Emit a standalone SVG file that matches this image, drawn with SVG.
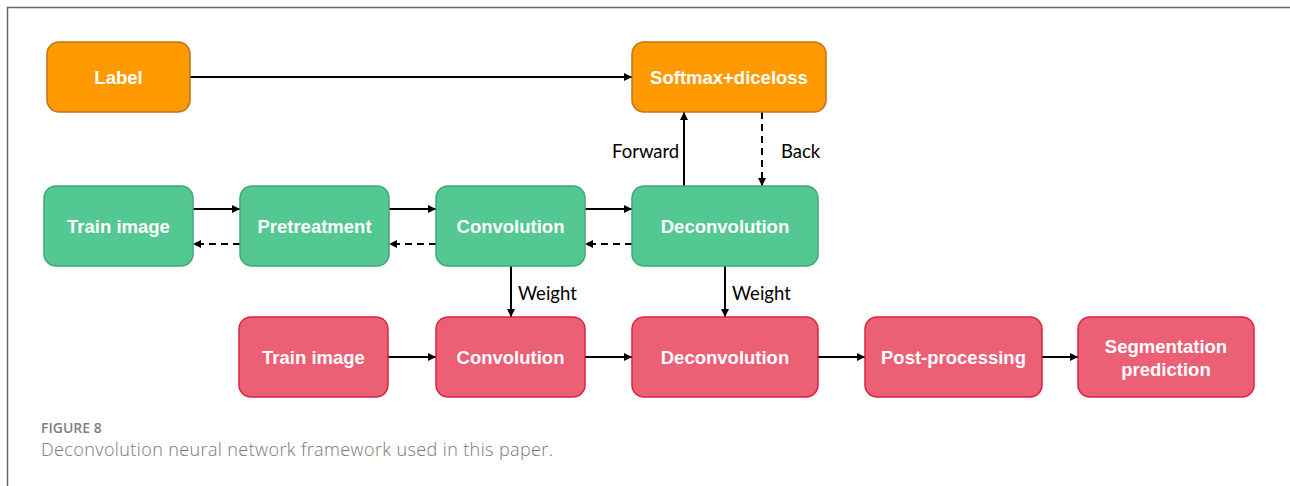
<svg xmlns="http://www.w3.org/2000/svg" width="1290" height="486" viewBox="0 0 1290 486">
<defs>
<marker id="ah" viewBox="0 0 10 10" refX="10" refY="5" markerWidth="9" markerHeight="8" markerUnits="userSpaceOnUse" orient="auto">
<path d="M0,0 L10,5 L0,10 z" fill="#000"/>
</marker>
</defs>
<style>
.orange{fill:#FF9900;stroke:#BF7413;stroke-width:1.5}
.green{fill:#54C893;stroke:#3FA872;stroke-width:1.5}
.red{fill:#EC6075;stroke:#DF2140;stroke-width:1.5}
.nt{font-family:"Liberation Sans",Arial,sans-serif;font-weight:bold;font-size:18.5px;fill:#fff;text-anchor:middle;dominant-baseline:central}
.lbl{font-family:Lato,"Open Sans",sans-serif;font-size:18.5px;fill:#000}
.c{stroke:#000;stroke-width:2;fill:none;marker-end:url(#ah)}
.d{stroke-dasharray:7,5}
.frame{stroke:#666;stroke-width:1.5;fill:none}
</style>
<rect width="1290" height="486" fill="#fff"/>
<path class="frame" d="M7.5,486 V7.5 H1290"/>

<g id="connectors">
<line class="c" x1="190" y1="77" x2="632" y2="77"/>
<line class="c" x1="684" y1="186" x2="684" y2="112"/>
<line class="c d" x1="762" y1="112" x2="762" y2="186"/>
<line class="c" x1="193" y1="209" x2="240" y2="209"/>
<line class="c d" x1="240" y1="244" x2="193" y2="244"/>
<line class="c" x1="389" y1="209" x2="436" y2="209"/>
<line class="c d" x1="436" y1="244" x2="389" y2="244"/>
<line class="c" x1="585" y1="209" x2="632" y2="209"/>
<line class="c d" x1="632" y1="244" x2="585" y2="244"/>
<line class="c" x1="511" y1="266" x2="511" y2="317"/>
<line class="c" x1="725" y1="266" x2="725" y2="317"/>
<line class="c" x1="388" y1="357" x2="436" y2="357"/>
<line class="c" x1="585" y1="357" x2="632" y2="357"/>
<line class="c" x1="818" y1="357" x2="865" y2="357"/>
<line class="c" x1="1042" y1="357" x2="1078" y2="357"/>
<text class="lbl" x="612" y="158">Forward</text>
<text class="lbl" x="781" y="158">Back</text>
<text class="lbl" x="518" y="300">Weight</text>
<text class="lbl" x="732" y="300">Weight</text>
</g>

<g id="label"><rect class="orange" x="47" y="42" width="143" height="70" rx="12"/><text class="nt" x="118.5" y="77">Label</text></g>
<g id="softmax"><rect class="orange" x="632" y="42" width="194" height="70" rx="12"/><text class="nt" x="729" y="77">Softmax+diceloss</text></g>

<g id="g-train"><rect class="green" x="44" y="186" width="149" height="80" rx="12"/><text class="nt" x="118.5" y="226">Train image</text></g>
<g id="g-pre"><rect class="green" x="240" y="186" width="149" height="80" rx="12"/><text class="nt" x="314.5" y="226">Pretreatment</text></g>
<g id="g-conv"><rect class="green" x="436" y="186" width="149" height="80" rx="12"/><text class="nt" x="510.5" y="226">Convolution</text></g>
<g id="g-deconv"><rect class="green" x="632" y="186" width="186" height="80" rx="12"/><text class="nt" x="725" y="226">Deconvolution</text></g>

<g id="r-train"><rect class="red" x="239" y="317" width="149" height="80" rx="12"/><text class="nt" x="313.5" y="357">Train image</text></g>
<g id="r-conv"><rect class="red" x="436" y="317" width="149" height="80" rx="12"/><text class="nt" x="510.5" y="357">Convolution</text></g>
<g id="r-deconv"><rect class="red" x="632" y="317" width="186" height="80" rx="12"/><text class="nt" x="725" y="357">Deconvolution</text></g>
<g id="r-post"><rect class="red" x="865" y="317" width="177" height="80" rx="12"/><text class="nt" x="953.5" y="357">Post-processing</text></g>
<g id="r-seg"><rect class="red" x="1078" y="317" width="176" height="80" rx="12"/><text class="nt" x="1166" y="346">Segmentation</text><text class="nt" x="1166" y="369">prediction</text></g>

<g id="caption">
<text x="41" y="433" font-family="'Open Sans',sans-serif" font-size="14px" font-weight="600" fill="#808080">FIGURE 8</text>
<text x="41" y="456" font-family="'Open Sans',sans-serif" font-size="18px" font-weight="300" fill="#777" textLength="512" lengthAdjust="spacing">Deconvolution neural network framework used in this paper.</text>
</g>
</svg>
